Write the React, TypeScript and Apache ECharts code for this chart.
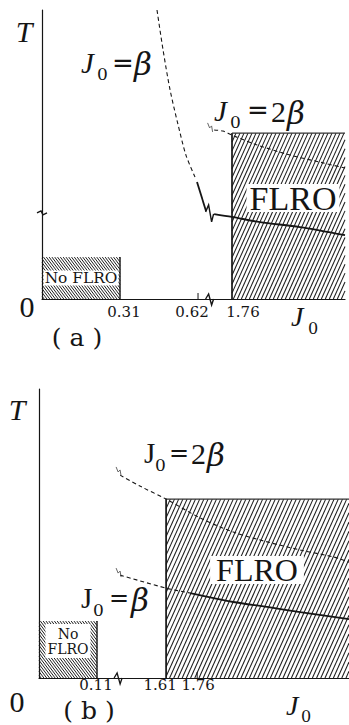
import React, { useEffect, useRef } from "react";
import * as echarts from "echarts";

// ---------------- Panel (a) ----------------
const aXMax = 2.209;
const aNoFlro = [0, 0.31, 0, 0.145]; // J0 from, J0 to, T from, T to
const aFlro = [1.76, 2.209, 0, 0.574];
const aBetaDashJ = [0.457, 0.481, 0.509, 0.541, 0.572, 0.608];
const aBetaDashT = [1.0, 0.862, 0.723, 0.602, 0.498, 0.422];
const aBetaLowJ = [0.616, 0.652];
const aBetaLowT = [0.405, 0.304];
const aBetaHighJ = [1.689, 1.76, 1.871, 2.03, 2.209];
const aBetaHighT = [0.294, 0.284, 0.266, 0.249, 0.221];
const aTwoBetaJ = [1.689, 1.724, 1.76, 1.86, 1.991, 2.122, 2.209];
const aTwoBetaT = [0.585, 0.581, 0.567, 0.533, 0.498, 0.471, 0.453];
const aTickJ = [0.31, 0.62, 1.76];
const aTickLabels = ["0.31", "0.62", "1.76"];
const aMinorTickJ = [0.62];
const aBreakJ = 0.666;

// ---------------- Panel (b) ----------------
const bXMax = 2.493;
const bNoFlro = [0, 0.11, 0, 0.197];
const bFlro = [1.61, 2.493, 0, 0.619];
const bTwoBetaJ = [1.388, 1.484, 1.61, 1.774, 1.934, 2.098, 2.257, 2.417, 2.493];
const bTwoBetaT = [0.702, 0.664, 0.619, 0.554, 0.505, 0.471, 0.443, 0.419, 0.401];
const bBetaDashJ = [1.388, 1.61, 1.726];
const bBetaDashT = [0.356, 0.311, 0.294];
const bBetaSolidJ = [1.726, 1.934, 2.098, 2.257, 2.493];
const bBetaSolidT = [0.294, 0.263, 0.246, 0.228, 0.204];
const bTickJ = [0.11, 1.61, 1.76];
const bTickLabels = ["0.11", "1.61", "1.76"];
const bMinorTickJ = [1.76];
const bBreakJ = 0.15;

// broken-axis mappings (J0 -> axis units)
const mapA = (j: number) => (j < 1 ? j : j - 1.005);
const mapB = (j: number) => (j < 1 ? j : 0.241 + (j - 1.61) * 0.3928);

const SERIF = "'Liberation Serif', 'DejaVu Serif', serif";
const DSERIF = "'DejaVu Serif', serif";
const DSANS = "'DejaVu Sans', sans-serif";
const INK = "#151515";

const ZIGS: number[][][] = [
  [[-4, -1], [-1, -8], [2, 9], [4, 1]], // 0 curve break
  [[-4, 0], [-1, -5], [2, 6], [4, 0]], // 1 x-axis break
  [[-5, 0], [-1, -2], [1, 2], [5, 0]], // 2 y-axis break
  [[-2, -5], [0, 0], [2, -2], [3, 4]], // 3 small squiggle
];

function lineSeries(ai: number, js: number[], ts: number[], map: (j: number) => number, dashed: boolean, width: number) {
  return {
    type: "line",
    xAxisIndex: ai,
    yAxisIndex: ai,
    data: js.map((j, i) => [map(j), ts[i]]),
    showSymbol: false,
    symbol: "none",
    smooth: 0.3,
    silent: true,
    z: 3,
    lineStyle: { color: INK, width, type: dashed ? [4, 3] : "solid" },
  };
}

function hatchSeries(ai: number, rect: number[], map: (j: number) => number, slope: number, gap: number, lw: number, edges: { left?: number; top?: number; right?: number }) {
  return {
    type: "custom",
    xAxisIndex: ai,
    yAxisIndex: ai,
    silent: true,
    z: 1,
    clip: false,
    encode: { x: [0, 1], y: [2, 3] },
    data: [[map(rect[0]), map(rect[1]), rect[2], rect[3]]],
    renderItem: (params: any, api: any) => {
      const p0 = api.coord([api.value(0), api.value(3)]);
      const p1 = api.coord([api.value(1), api.value(2)]);
      const L = p0[0], T = p0[1], R = p1[0], B = p1[1];
      const H = B - T;
      const children: any[] = [];
      const span = Math.abs(slope) * H;
      for (let a = L - span - gap; a <= R + span + gap; a += gap) {
        const ta = (L - a) / slope;
        const tb = (R - a) / slope;
        const t0 = Math.max(0, Math.min(ta, tb));
        const t1 = Math.min(H, Math.max(ta, tb));
        if (t1 <= t0) continue;
        children.push({
          type: "line",
          shape: { x1: a + slope * t0, y1: B - t0, x2: a + slope * t1, y2: B - t1 },
          style: { stroke: "#1e1e1e", lineWidth: lw },
        });
      }
      if (edges.left) children.push({ type: "line", shape: { x1: L, y1: T, x2: L, y2: B }, style: { stroke: INK, lineWidth: edges.left } });
      if (edges.top) children.push({ type: "line", shape: { x1: L, y1: T, x2: R, y2: T }, style: { stroke: "#333", lineWidth: edges.top } });
      if (edges.right) children.push({ type: "line", shape: { x1: R, y1: T, x2: R, y2: B }, style: { stroke: INK, lineWidth: edges.right } });
      return { type: "group", children };
    },
  };
}

function zigSeries(ai: number, pts: number[][], map: (j: number) => number, width: number, color: string) {
  return {
    type: "custom",
    xAxisIndex: ai,
    yAxisIndex: ai,
    silent: true,
    z: 4,
    clip: false,
    encode: { x: 0, y: 1 },
    data: pts.map((p) => [map(p[0]), p[1], p[2]]),
    renderItem: (params: any, api: any) => {
      const c = api.coord([api.value(0), api.value(1)]);
      const shape = ZIGS[api.value(2)];
      return {
        type: "polyline",
        shape: { points: shape.map((o) => [c[0] + o[0], c[1] + o[1]]) },
        style: { stroke: color, fill: "none", lineWidth: width },
      };
    },
  };
}

function tickSeries(ai: number, js: number[], map: (j: number) => number, len: number) {
  return {
    type: "custom",
    xAxisIndex: ai,
    yAxisIndex: ai,
    silent: true,
    z: 4,
    clip: false,
    encode: { x: 0, y: 1 },
    data: js.map((j) => [map(j), 0]),
    renderItem: (params: any, api: any) => {
      const c = api.coord([api.value(0), api.value(1)]);
      return { type: "line", shape: { x1: c[0], y1: c[1], x2: c[0], y2: c[1] - len }, style: { stroke: INK, lineWidth: 1 } };
    },
  };
}

function txt(x: number, y: number, text: string, size: number, opts: any = {}) {
  const align = opts.align || "center";
  return {
    type: "text",
    x,
    y,
    z: 100,
    scaleX: opts.scaleX || 1,
    style: {
      text,
      fontSize: size,
      fontFamily: opts.family || SERIF,
      fontStyle: opts.italic ? "italic" : "normal",
      fontWeight: opts.weight || "normal",
      fill: INK,
      align,
      verticalAlign: "middle",
      textAlign: align,
      textVerticalAlign: "middle",
      backgroundColor: opts.bg,
      padding: opts.padding,
      lineHeight: opts.lineHeight,
    },
  };
}

function axisPair(ai: number, max: number) {
  return {
    x: {
      gridIndex: ai, type: "value", min: 0, max,
      axisLine: { show: true, onZero: false, lineStyle: { color: INK, width: 1.2 } },
      axisTick: { show: false }, axisLabel: { show: false }, splitLine: { show: false },
    },
    y: {
      gridIndex: ai, type: "value", min: 0, max: 1,
      axisLine: { show: true, lineStyle: { color: INK, width: 1.2 } },
      axisTick: { show: false }, axisLabel: { show: false }, splitLine: { show: false },
    },
  };
}

const staticLabels = [
  // panel (a)
  txt(24, 31, "T", 30, { italic: true }),
  txt(81, 63, "J", 29, { italic: true, align: "left" }),
  txt(97, 74, "0", 17, { family: DSERIF, align: "left" }),
  txt(112, 63, "=", 26, { family: DSANS, align: "left" }),
  txt(134, 64, "β", 31, { italic: true, family: DSERIF, align: "left" }),
  txt(214, 111, "J", 29, { italic: true, align: "left" }),
  txt(230, 122, "0", 17, { family: DSERIF, align: "left" }),
  txt(247, 110, "=", 26, { family: DSANS, align: "left" }),
  txt(271, 111, "2", 30, { align: "left" }),
  txt(287, 113, "β", 31, { italic: true, family: DSERIF, align: "left" }),
  txt(293, 198, "FLRO", 34, { bg: "#fff", padding: [1, 3], lineHeight: 26 }),
  txt(81, 278, "No FLRO", 14, { family: DSERIF, bg: "#fff", padding: [1, 1], lineHeight: 13, scaleX: 1.1 }),
  txt(27, 306, "0", 30),
  txt(77, 337, "( a )", 25, { family: DSERIF }),
  txt(291, 316, "J", 28, { italic: true, align: "left" }),
  txt(308, 328, "0", 16, { family: DSERIF, align: "left" }),
  // panel (b)
  txt(17, 409, "T", 30, { italic: true }),
  txt(144, 453, "J", 29, { align: "left" }),
  txt(155, 465, "0", 17, { family: DSERIF, align: "left" }),
  txt(169, 453, "=", 24, { family: DSANS, align: "left" }),
  txt(191, 453, "2", 30, { align: "left" }),
  txt(207, 455, "β", 31, { italic: true, family: DSERIF, align: "left" }),
  txt(257, 570, "FLRO", 32, { bg: "#fff", padding: [2, 6], lineHeight: 24 }),
  txt(81, 598, "J", 29, { align: "left" }),
  txt(93, 610, "0", 17, { family: DSERIF, align: "left" }),
  txt(109, 598, "=", 24, { family: DSANS, align: "left" }),
  txt(131, 600, "β", 31, { italic: true, family: DSERIF, align: "left" }),
  txt(68, 641, "No\nFLRO", 14, { family: DSERIF, bg: "#fff", padding: [2, 2], lineHeight: 15 }),
  txt(17, 701, "0", 30),
  txt(89, 710, "( b )", 25, { family: DSERIF }),
  txt(286, 705, "J", 28, { italic: true, align: "left" }),
  txt(301, 716, "0", 16, { family: DSERIF, align: "left" }),
];

const aAxes = axisPair(0, mapA(aXMax));
const bAxes = axisPair(1, mapB(bXMax));

const option: any = {
  animation: false,
  backgroundColor: "#fff",
  grid: [
    { left: 42, top: 10, width: 303, height: 289 },
    { left: 39, top: 389, width: 310, height: 289 },
  ],
  xAxis: [aAxes.x, bAxes.x],
  yAxis: [aAxes.y, bAxes.y],
  series: [
    hatchSeries(0, aNoFlro, mapA, -0.75, 2.8, 1, { right: 1.4 }),
    hatchSeries(0, aFlro, mapA, 0.45, 4, 1.05, { left: 1.7, top: 1.1 }),
    hatchSeries(1, bNoFlro, mapB, -0.75, 2.8, 1, { right: 1.4 }),
    hatchSeries(1, bFlro, mapB, 0.45, 4.2, 1.05, { left: 1.7, top: 1.1 }),
    lineSeries(0, aBetaDashJ, aBetaDashT, mapA, true, 1.1),
    lineSeries(0, aBetaLowJ, aBetaLowT, mapA, false, 1.8),
    lineSeries(0, aBetaHighJ, aBetaHighT, mapA, false, 1.8),
    lineSeries(0, aTwoBetaJ, aTwoBetaT, mapA, true, 1.1),
    lineSeries(1, bTwoBetaJ, bTwoBetaT, mapB, true, 1.1),
    lineSeries(1, bBetaDashJ, bBetaDashT, mapB, true, 1.1),
    lineSeries(1, bBetaSolidJ, bBetaSolidT, mapB, false, 1.8),
    zigSeries(0, [[aBreakJ, 0.298, 0], [aBreakJ, 0, 1], [0, 0.298, 2]], mapA, 1.4, INK),
    zigSeries(0, [[aBreakJ, 0.592, 3]], mapA, 0.9, "#555"),
    zigSeries(1, [[bBreakJ, 0, 1]], mapB, 1.3, INK),
    zigSeries(1, [[bBreakJ, 0.713, 3], [bBreakJ, 0.363, 3]], mapB, 0.9, "#555"),
    tickSeries(0, aMinorTickJ, mapA, 6),
    tickSeries(1, bMinorTickJ, mapB, 6),
  ],
  graphic: { elements: staticLabels },
};

const aTickOffsets = [4, -6, 11];
const bTickOffsets = [-1, -6, 1];

export default function App() {
  const ref = useRef<HTMLDivElement>(null);
  useEffect(() => {
    const chart = echarts.init(ref.current!, null, { renderer: "svg" });
    chart.setOption(option);
    const tickTexts: any[] = [];
    aTickJ.forEach((j, i) => {
      const px = chart.convertToPixel({ xAxisIndex: 0 } as any, mapA(j)) as unknown as number;
      tickTexts.push(txt(px + aTickOffsets[i], 312, aTickLabels[i], 15, { family: DSERIF }));
    });
    bTickJ.forEach((j, i) => {
      const px = chart.convertToPixel({ xAxisIndex: 1 } as any, mapB(j)) as unknown as number;
      tickTexts.push(txt(px + bTickOffsets[i], 685, bTickLabels[i], 15, { family: DSERIF }));
    });
    chart.setOption({ graphic: { elements: [...staticLabels, ...tickTexts] } });
    return () => chart.dispose();
  }, []);
  return <div ref={ref} style={{ position: "absolute", left: 0, top: 0, width: 349, height: 725 }} />;
}
